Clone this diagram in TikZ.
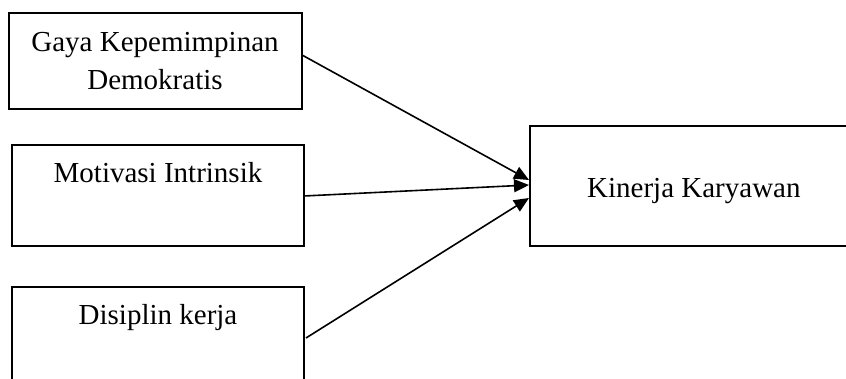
\documentclass[tikz,border=0pt]{standalone}
\usepackage{fontspec}
\setmainfont{Liberation Serif}
\usetikzlibrary{arrows.meta}
\begin{document}
\begin{tikzpicture}[x=1pt,y=1pt,
  boxnode/.style={draw,line width=1.6pt,inner sep=0pt,outer sep=0pt},
  txt/.style={font=\fontsize{29}{37}\selectfont,inner sep=0pt,anchor=base,align=center},
  conn/.style={line width=1.6pt,-{Triangle[length=15pt,width=13pt]}}]
\useasboundingbox (0,0) rectangle (846,379);
\clip (0,0) rectangle (846,379);
\node[boxnode,minimum width=293pt,minimum height=96pt,anchor=south west] (b1) at (9,270) {};
\node[boxnode,minimum width=292pt,minimum height=101pt,anchor=south west] (b2) at (12,133) {};
\node[boxnode,minimum width=292pt,minimum height=112pt,anchor=south west] (b3) at (12,-20) {};
\node[boxnode,minimum width=340pt,minimum height=120pt,anchor=south west] (b4) at (530,133) {};
\node[txt] (t1a) at (155,327) {Gaya Kepemimpinan};
\node[txt] (t1b) at (155,289) {Demokratis};
\node[txt] (t2) at (158,196) {Motivasi Intrinsik};
\node[txt] (t3) at (158,54) {Disiplin kerja};
\node[txt,anchor=base west] (t4) at (587,181) {Kinerja Karyawan};
\coordinate (s1) at (302,324);
\coordinate (s2) at (304,183);
\coordinate (s3) at (306,41);
\coordinate (e1) at (529,199);
\coordinate (e2) at (529,194);
\coordinate (e3) at (529,181);
\draw[conn] (s1) -- (e1);
\draw[conn] (s2) -- (e2);
\draw[conn] (s3) -- (e3);
\end{tikzpicture}
\end{document}
